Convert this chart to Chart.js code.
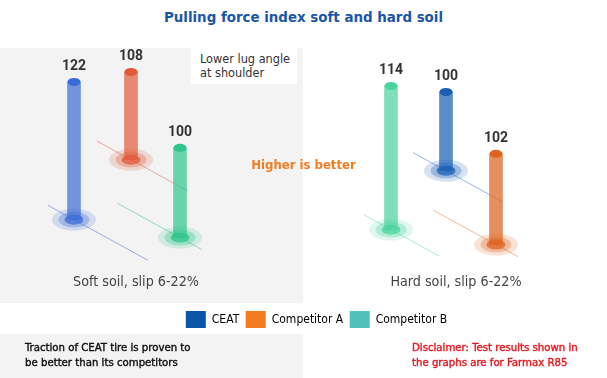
<!DOCTYPE html>
<html>
<head>
<meta charset="utf-8">
<script src="https://cdn.jsdelivr.net/npm/chart.js@4/dist/chart.umd.min.js"></script>
<style>
  html, body { margin: 0; padding: 0; background: #fff; }
  body { width: 607px; height: 378px; position: relative; overflow: hidden;
         font-family: "DejaVu Sans Condensed", "DejaVu Sans", sans-serif; }
  .panel { position: absolute; background: #f3f3f3; }
  #wrap { position: absolute; left: 0; top: 0; width: 607px; height: 378px; }
  .txt { position: absolute; white-space: nowrap; }
  #title { left: 0; width: 607px; top: 8px; text-align: center; color: #1a56a8; font-weight: bold; font-size: 14.9px; }
  #note { left: 191px; top: 47px; height: 37px; width: 106px; background: #fff; color: #333;
          font-size: 12.6px; line-height: 14px; padding: 5px 0 0 9px; box-sizing: border-box; }
  #better { left: 0; width: 607px; top: 157px; text-align: center; color: #f47b20; font-weight: bold; font-size: 13px; }
  .caption { top: 273px; width: 200px; text-align: center; color: #444; font-size: 14.2px; }
  .foot { top: 340px; font-size: 11.3px; line-height: 15px; -webkit-text-stroke: 0.4px; }
</style>
</head>
<body>
<div class="panel" style="left:0;top:48px;width:303px;height:255px"></div>
<div class="panel" style="left:0;top:334px;width:303px;height:44px"></div>
<div class="txt" id="title">Pulling force index soft and hard soil</div>
<div id="wrap"><canvas id="myChart" width="607" height="378"></canvas></div>
<div class="txt" id="note">Lower lug angle<br>at shoulder</div>
<div class="txt" id="better">Higher is better</div>
<div class="txt caption" style="left:36px">Soft soil, slip 6-22%</div>
<div class="txt caption" style="left:356px">Hard soil, slip 6-22%</div>
<div class="txt foot" style="left:25px;color:#111">Traction of CEAT tire is proven to<br>be better than its competitors</div>
<div class="txt foot" style="left:412px;color:#e5171f">Disclaimer: Test results shown in<br>the graphs are for Farmax R85</div>

<script>
// pulling force index, CEAT / Competitor A / Competitor B
const seriesNames = ['CEAT', 'Competitor A', 'Competitor B'];
const legendColors = ['#0a56a8', '#f47b20', '#4fc1ba'];
const softValues = [122, 108, 100];
const hardValues = [100, 102, 114];

// colours of the columns in each panel
const softColors = [[59, 107, 214], [224, 90, 58], [46, 196, 140]];
const hardColors = [[26, 95, 180], [220, 100, 32], [76, 211, 159]];

// where each column stands in the sketch (stage units, height grows upward)
const softStage = [74, 131, 180];
const softFloor = [85, 145, 67];
const softTop = [223, 233, 157];
const hardStage = [446, 496, 391];
const hardFloor = [134, 60, 75];
const hardTop = [213, 151, 219];

// ground rail through each foot: reach to the left / right
const softRail = [[26, 74], [34, 57], [63, 22]];
const hardRail = [[33, 57], [63, 22], [27, 48]];
const railSlope = 0.55;

const sketchFont = '"DejaVu Sans Condensed", "DejaVu Sans", sans-serif';

function rgba(c, a) {
    return `rgba(${c[0]}, ${c[1]}, ${c[2]}, ${a})`;
}

function rail(x, floor, reach) {
    return [
        {x: x - reach[0], y: floor + reach[0] * railSlope},
        {x: x + reach[1], y: floor - reach[1] * railSlope}
    ];
}

const datasets = [];
seriesNames.forEach((name, i) => {
    datasets.push({
        type: 'bar',
        label: name,
        order: 0,
        grouped: false,
        barThickness: 13,
        data: [
            {x: softStage[i], y: [softFloor[i], softTop[i]], value: softValues[i], rgb: softColors[i]},
            {x: hardStage[i], y: [hardFloor[i], hardTop[i]], value: hardValues[i], rgb: hardColors[i]}
        ],
        backgroundColor: [rgba(softColors[i], 0.7), rgba(hardColors[i], 0.72)]
    });
});
seriesNames.forEach((name, i) => {
    datasets.push({
        type: 'line', label: name + ' soft rail', order: 1,
        data: rail(softStage[i], softFloor[i], softRail[i]),
        borderColor: rgba(softColors[i], 0.5), borderWidth: 1, pointRadius: 0
    });
    datasets.push({
        type: 'line', label: name + ' hard rail', order: 1,
        data: rail(hardStage[i], hardFloor[i], hardRail[i]),
        borderColor: rgba(hardColors[i], 0.45), borderWidth: 1, pointRadius: 0
    });
});

function ellipse(ctx, x, y, rx, ry, color) {
    ctx.beginPath();
    ctx.ellipse(x, y, rx, ry, 0, 0, Math.PI * 2);
    ctx.fillStyle = color;
    ctx.fill();
}

// halo under each column foot, caps and value labels on top
const cylinderPlugin = {
    id: 'cylinders',
    beforeDatasetDraw(chart, args) {
        const meta = args.meta;
        if (meta.type !== 'bar') return;
        const ctx = chart.ctx;
        ctx.save();
        meta.data.forEach((el, j) => {
            const c = meta._dataset.data[j].rgb;
            ellipse(ctx, el.x, el.base, 22, 11, rgba(c, 0.18));
            ellipse(ctx, el.x, el.base, 15.5, 7.8, rgba(c, 0.3));
        });
        ctx.restore();
    },
    afterDatasetDraw(chart, args) {
        const meta = args.meta;
        if (meta.type !== 'bar') return;
        const ctx = chart.ctx;
        ctx.save();
        meta.data.forEach((el, j) => {
            const d = meta._dataset.data[j];
            const w = el.width;
            ellipse(ctx, el.x, el.base, 9.5, 5, rgba(d.rgb, 0.75));
            ellipse(ctx, el.x, el.y, w / 2, 4, rgba(d.rgb, 1));
            ctx.fillStyle = '#333';
            ctx.font = 'bold 14px Roboto, sans-serif';
            ctx.textAlign = 'center';
            ctx.textBaseline = 'middle';
            ctx.fillText(String(d.value), el.x, el.y - 15);
        });
        ctx.restore();
    }
};

Chart.defaults.font.family = sketchFont;

const ctx = document.getElementById('myChart').getContext('2d');
const chart = new Chart(ctx, {
    data: {datasets: datasets},
    options: {
        responsive: false,
        animation: false,
        layout: {padding: {top: 35, bottom: 40, left: 26}},
        scales: {
            x: {type: 'linear', display: false, offset: false, min: 26, max: 607},
            y: {type: 'linear', display: false, min: 0, max: 270}
        },
        plugins: {
            title: {display: false},
            legend: {
                position: 'bottom',
                labels: {
                    boxWidth: 20,
                    boxHeight: 17,
                    padding: 6.5,
                    color: '#555',
                    font: {size: 12},
                    generateLabels: () => seriesNames.map((n, i) => ({
                        text: n, fillStyle: legendColors[i], strokeStyle: legendColors[i],
                        lineWidth: 0, hidden: false, datasetIndex: i
                    }))
                }
            },
            tooltip: {enabled: false}
        }
    },
    plugins: [cylinderPlugin]
});
</script>
</body>
</html>
